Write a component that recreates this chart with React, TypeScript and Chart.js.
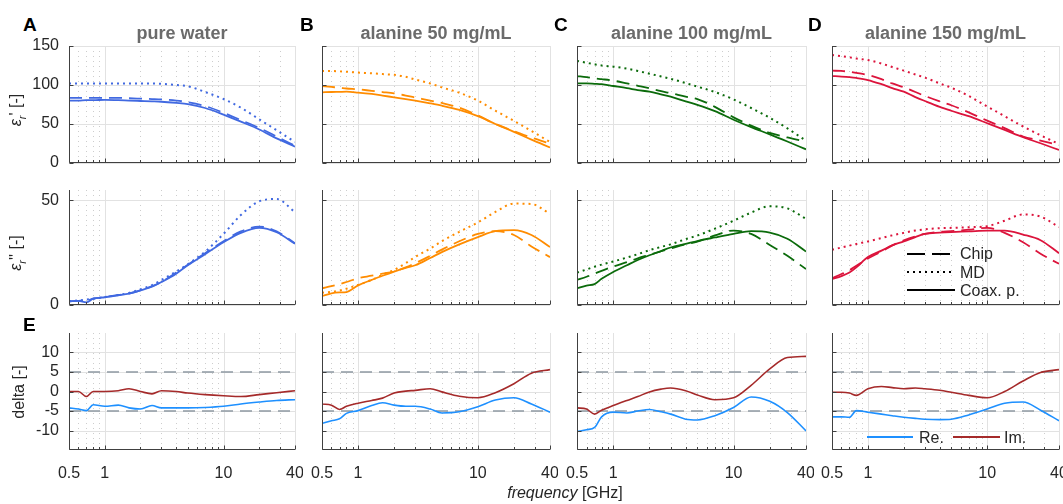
import React, { useEffect, useRef } from "react";
import { Chart, registerables } from "chart.js";
Chart.register(...registerables);

// ---------------- data ----------------
const FREQ = [0.5, 0.6, 0.7, 0.8, 1, 1.3, 1.6, 2, 2.5, 3, 4, 5, 7, 10, 14, 20, 28, 40];
const X_TICKS = [0.5, 1, 10, 40];
const X_MINOR = [0.6, 0.7, 0.8, 0.9, 2, 3, 4, 5, 6, 7, 8, 9, 20, 30];
const Y1_TICKS = [0, 50, 100, 150];
const Y2_TICKS = [0, 50];
const Y3_TICKS = [-10, -5, 0, 5, 10];
const DELTA_LIMITS = [5, -5];

const TITLES = ["pure water", "alanine 50 mg/mL", "alanine 100 mg/mL", "alanine 150 mg/mL"];
const LETTERS = ["A", "B", "C", "D"];
const COLORS = ["#4169e1", "#ff8c00", "#0b6b0b", "#dc143c"];

// row 1: eps'  (Chip, MD, Coax. p.)
const A_EPS1_CHIP = [83.5, 83.5, 83.5, 83.5, 83.5, 83.5, 83, 82.5, 82, 81.5, 80, 78, 73, 64.5, 55, 45, 34, 22];
const A_EPS1_MD = [102, 102, 102, 102, 102, 102, 102, 102, 102, 101.5, 100, 98.5, 91, 82, 71, 56, 42, 27];
const A_EPS1_COAX = [80, 80, 80.5, 80.5, 81, 80.5, 80, 79.5, 79, 78.5, 77, 75.5, 70.5, 62, 53, 43, 31.5, 21];
const B_EPS1_CHIP = [98.7, 97.5, 96.5, 95.5, 94.5, 92.5, 91, 89.3, 86.5, 84, 80, 77, 71, 61, 50, 41, 32.5, 25];
const B_EPS1_MD = [118, 118, 117.5, 117, 116, 115, 114, 113, 110.5, 107, 102, 97, 90, 80, 67, 54, 41, 27];
const B_EPS1_COAX = [90.6, 91, 91.2, 91.4, 90.3, 88.5, 86.5, 84.2, 82, 80, 76.5, 73.5, 68, 60, 50, 40, 30, 20];
const C_EPS1_CHIP = [111.5, 110, 108.5, 107.5, 105.6, 102, 99, 95.7, 92, 89.5, 85, 82, 72, 58.5, 48, 38.6, 32.7, 27.3];
const C_EPS1_MD = [130.8, 128.5, 126.5, 125, 123.5, 121, 118, 114.5, 111, 108, 102.5, 98, 91, 81.5, 70.5, 58, 44.4, 28.6];
const C_EPS1_COAX = [102, 102, 101.5, 101, 98.7, 96, 93.5, 91.4, 88, 85, 79, 74.5, 66.5, 55.5, 46, 36.8, 27.6, 17.5];
const D_EPS1_CHIP = [118.4, 118, 117, 115.5, 112.8, 107.5, 102, 97, 91, 86, 79, 74, 65, 54.3, 44.7, 34, 28.7, 23];
const D_EPS1_MD = [138.5, 137, 135.5, 134, 132, 127.5, 123, 118.4, 113.5, 109.5, 102, 96.5, 86, 72.5, 60, 46.8, 35.5, 24.4];
const D_EPS1_COAX = [111.5, 110.8, 110, 109, 106.4, 101, 96, 91.4, 84.5, 79.5, 72, 67, 60, 51, 42.4, 33, 25.3, 16.7];

// row 2: eps''
const A_EPS2_CHIP = [1.8, 2, 2.2, 3, 3.8, 4.8, 5.5, 7, 9, 11, 15.5, 19.2, 24.8, 30.5, 35.2, 37.5, 35.2, 29.5];
const A_EPS2_MD = [1.8, 2.2, 2.6, 3, 3.8, 4.8, 5.8, 7.5, 9.5, 12, 16, 19.5, 25.5, 34, 43, 49.6, 50.7, 44.4];
const A_EPS2_COAX = [1.7, 2, 1.3, 3, 3.7, 4.6, 5.4, 7, 8.8, 11, 15, 19, 24.3, 30, 34.5, 36.9, 34.8, 29.3];
const B_EPS2_CHIP = [8, 9, 10, 11, 12.8, 14, 15, 16, 18, 20, 23.5, 26.5, 30.5, 34, 35.3, 33.5, 28, 22.9];
const B_EPS2_MD = [5.9, 6.3, 6.9, 7.8, 9.6, 12, 14.5, 16.8, 20, 23, 27, 30.5, 35, 39.5, 44.5, 48.5, 48.3, 43.6];
const B_EPS2_COAX = [4.3, 5.6, 6, 6.2, 9.4, 12, 14, 16, 17.8, 19, 22.5, 25.3, 29, 32.5, 35.3, 35.8, 33.5, 27.7];
const C_EPS2_CHIP = [12, 13.5, 15, 16.3, 18.4, 20.5, 22.3, 24, 25.7, 27, 29, 30.3, 33.3, 35.6, 34, 28.7, 23.5, 17.2];
const C_EPS2_MD = [15.5, 17, 18.3, 19.3, 20.8, 22.7, 24.3, 26.2, 27.8, 29, 31.5, 33.2, 36.5, 40.3, 44.2, 47.2, 46.2, 41.2];
const C_EPS2_COAX = [8, 9.3, 10, 12.5, 15.8, 19, 21.5, 23.8, 25.8, 27.5, 29.2, 30.6, 32.3, 34, 35.3, 34.6, 31.7, 25.6];
const D_EPS2_CHIP = [12.8, 14.8, 16.6, 18.8, 22.2, 25.6, 28.5, 30.9, 32.8, 34, 35, 35.3, 36, 36.9, 34.5, 30, 24.5, 19.7];
const D_EPS2_MD = [26.4, 27.5, 28.4, 29.2, 30.4, 32, 33.3, 34.5, 35.6, 36.2, 36.7, 36.9, 37.2, 37.7, 40.3, 43.3, 42.3, 37.3];
const D_EPS2_COAX = [12.4, 13.8, 15.5, 18, 22.9, 26, 28.5, 30.4, 32.5, 34, 34.6, 34.9, 35.2, 35.6, 35.6, 33.7, 31, 24.8];

// row 3: delta (Re., Im.)
const A_DELTA_RE = [-4.2, -4.5, -4.9, -3.4, -3.8, -3.5, -4.2, -4.5, -3.6, -4.2, -4.2, -4.2, -4.1, -3.8, -3.2, -2.7, -2.3, -2.1];
const A_DELTA_IM = [0, 0, -1.3, 0, 0, 0.2, 0.7, 0, -0.6, 0.2, 0, -0.4, -0.8, -1.1, -1.3, -0.8, -0.3, 0.2];
const B_DELTA_RE = [-8.2, -7.5, -7, -5.6, -4.9, -3.6, -2.9, -3.5, -3.8, -3.8, -4.5, -5.5, -5.2, -3.9, -2.2, -1.6, -3.2, -5.3];
const B_DELTA_IM = [-3.2, -3.5, -4.6, -3.8, -3, -2.3, -1.7, -0.4, 0.1, 0.3, 0.7, -0.1, -1.2, -1.6, -0.3, 2, 4.7, 5.6];
const C_DELTA_RE = [-10.3, -9.8, -9.2, -6.5, -5.3, -5.5, -5, -4.6, -5.2, -5.8, -7.1, -7.3, -6.2, -4.1, -1.4, -2.5, -5.4, -10.1];
const C_DELTA_IM = [-4.2, -4.5, -5.8, -4.8, -3.6, -2.3, -1.3, -0.1, 0.6, 0.9, 0.2, -0.9, -2.1, -1.6, 1.6, 5.8, 8.7, 9];
const D_DELTA_RE = [-6.5, -6.5, -6.6, -4.9, -5.3, -5.8, -6.2, -6.6, -6.9, -7.1, -7.2, -7.1, -6, -4.5, -3, -2.7, -4.8, -7.5];
const D_DELTA_IM = [-0.2, -0.2, -0.4, -1.0, 0.7, 1.3, 1, 0.7, 0.9, 0.7, 0.3, -0.2, -1, -1.6, 0, 2.7, 4.85, 5.6];

const EPS1 = [
  [A_EPS1_CHIP, A_EPS1_MD, A_EPS1_COAX],
  [B_EPS1_CHIP, B_EPS1_MD, B_EPS1_COAX],
  [C_EPS1_CHIP, C_EPS1_MD, C_EPS1_COAX],
  [D_EPS1_CHIP, D_EPS1_MD, D_EPS1_COAX],
];
const EPS2 = [
  [A_EPS2_CHIP, A_EPS2_MD, A_EPS2_COAX],
  [B_EPS2_CHIP, B_EPS2_MD, B_EPS2_COAX],
  [C_EPS2_CHIP, C_EPS2_MD, C_EPS2_COAX],
  [D_EPS2_CHIP, D_EPS2_MD, D_EPS2_COAX],
];
const DELTA = [
  [A_DELTA_RE, A_DELTA_IM],
  [B_DELTA_RE, B_DELTA_IM],
  [C_DELTA_RE, C_DELTA_IM],
  [D_DELTA_RE, D_DELTA_IM],
];

// ---------------- layout / style ----------------
const FONT = "'Liberation Sans', Arial, Helvetica, sans-serif";
const TEXT = "#262626";
const RE_COLOR = "#1e90ff";
const IM_COLOR = "#a52a2a";
const LIMIT_COLOR = "#8f99a3";
const DASH = [13, 7];
const DOT = [2, 4];

const COL_LEFT = [69, 322, 577, 832];
const COL_WIDTH = [226, 228, 229, 227];
const ROW_TOP = [46, 190, 333];
const ROW_HEIGHT = [117, 115, 117];

const PL = 50, PT = 8, PR = 8, PB = 36;

const gridPlugin = {
  id: "matlabGrid",
  beforeDatasetsDraw(chart: any) {
    const { ctx, chartArea: a, scales } = chart;
    const x = scales.x, y = scales.y;
    ctx.save();
    ctx.lineWidth = 1;
    ctx.strokeStyle = "#cdcdcd";
    ctx.setLineDash([1, 4]);
    for (const v of X_MINOR) {
      const px = Math.round(x.getPixelForValue(v)) + 0.5;
      ctx.beginPath(); ctx.moveTo(px, a.top); ctx.lineTo(px, a.bottom); ctx.stroke();
    }
    ctx.setLineDash([]);
    ctx.strokeStyle = "#e2e2e2";
    for (const v of X_TICKS) {
      const px = Math.round(x.getPixelForValue(v)) + 0.5;
      ctx.beginPath(); ctx.moveTo(px, a.top); ctx.lineTo(px, a.bottom); ctx.stroke();
    }
    for (const t of y.ticks) {
      const py = Math.round(y.getPixelForValue(t.value)) + 0.5;
      ctx.beginPath(); ctx.moveTo(a.left, py); ctx.lineTo(a.right, py); ctx.stroke();
    }
    ctx.restore();
  },
  afterDatasetsDraw(chart: any) {
    const { ctx, chartArea: a, scales } = chart;
    const x = scales.x, y = scales.y;
    ctx.save();
    ctx.strokeStyle = "#404040";
    ctx.lineWidth = 1;
    const l = Math.round(a.left) + 0.5;
    const b = Math.round(a.bottom) - 0.5;
    ctx.beginPath(); ctx.moveTo(l, a.top); ctx.lineTo(l, b); ctx.lineTo(a.right, b); ctx.stroke();
    for (const v of X_TICKS) {
      const px = Math.round(x.getPixelForValue(v)) + 0.5;
      ctx.beginPath(); ctx.moveTo(px, b); ctx.lineTo(px, b - 4); ctx.stroke();
    }
    for (const v of X_MINOR) {
      const px = Math.round(x.getPixelForValue(v)) + 0.5;
      ctx.beginPath(); ctx.moveTo(px, b); ctx.lineTo(px, b - 2.5); ctx.stroke();
    }
    for (const t of y.ticks) {
      const py = Math.round(y.getPixelForValue(t.value)) + 0.5;
      ctx.beginPath(); ctx.moveTo(l, py); ctx.lineTo(l + 4, py); ctx.stroke();
    }
    ctx.restore();
  },
};

type SeriesDef = { values: number[]; color: string; dash: number[]; width?: number; full?: boolean };

function zeroPad(s: any) {
  s.paddingLeft = 0;
  s.paddingRight = 0;
  s.paddingTop = 0;
  s.paddingBottom = 0;
}

function Panel(props: {
  col: number; row: number; yMin: number; yMax: number; yTicks: number[]; series: SeriesDef[];
}) {
  const { col, row, yMin, yMax, yTicks, series } = props;
  const ref = useRef<HTMLCanvasElement>(null);
  const width = COL_WIDTH[col];
  const height = ROW_HEIGHT[row];
  const showY = col === 0;
  const showX = row === 2;
  useEffect(() => {
    const datasets = series.map((s) => ({
      data: s.full
        ? [{ x: FREQ[0], y: s.values[0] }, { x: FREQ[FREQ.length - 1], y: s.values[0] }]
        : FREQ.map((f, i) => ({ x: f, y: s.values[i] })),
      borderColor: s.color,
      borderWidth: s.width ?? 1.8,
      borderDash: s.dash,
      borderCapStyle: "butt" as const,
      pointRadius: 0,
      fill: false,
      cubicInterpolationMode: "monotone" as const,
    }));
    const tickFont = { family: FONT, size: 16 };
    const chart = new Chart(ref.current!, {
      type: "line",
      data: { datasets },
      options: {
        animation: false,
        responsive: false,
        maintainAspectRatio: false,
        events: [],
        layout: { padding: { top: PT, right: PR, left: 0, bottom: 0 } },
        plugins: { legend: { display: false }, tooltip: { enabled: false } },
        scales: {
          x: {
            type: "logarithmic",
            min: 0.5,
            max: 40,
            afterBuildTicks: (s: any) => { s.ticks = X_TICKS.map((v) => ({ value: v })); },
            afterFit: (s: any) => { s.height = PB; zeroPad(s); },
            grid: { display: false },
            border: { display: false },
            ticks: {
              display: showX,
              autoSkip: false,
              maxRotation: 0,
              minRotation: 0,
              padding: 6,
              color: TEXT,
              font: tickFont,
              callback: (v: any) => String(v),
            },
          },
          y: {
            type: "linear",
            min: yMin,
            max: yMax,
            afterBuildTicks: (s: any) => { s.ticks = yTicks.map((v) => ({ value: v })); },
            afterFit: (s: any) => { s.width = PL; zeroPad(s); },
            grid: { display: false, drawTicks: false },
            border: { display: false },
            ticks: {
              display: showY,
              autoSkip: false,
              padding: 10,
              color: TEXT,
              font: tickFont,
              callback: (v: any) => String(v),
            },
          },
        },
      },
      plugins: [gridPlugin],
    } as any);
    return () => chart.destroy();
  }, []);
  return (
    <canvas
      ref={ref}
      width={PL + width + PR}
      height={PT + height + PB}
      style={{ position: "absolute", left: COL_LEFT[col] - PL, top: ROW_TOP[row] - PT }}
    />
  );
}

function Txt(props: { x: number; y: number; style?: any; children: any; rotate?: boolean; align?: string }) {
  const { x, y, style, children, rotate, align } = props;
  const tx = align === "left" ? "0" : "-50%";
  return (
    <div
      style={{
        position: "absolute",
        left: x,
        top: y,
        transform: `translate(${tx}, -50%)` + (rotate ? " rotate(-90deg)" : ""),
        whiteSpace: "nowrap",
        fontFamily: FONT,
        fontSize: 16,
        color: TEXT,
        lineHeight: 1,
        ...style,
      }}
    >
      {children}
    </div>
  );
}

function LegendLine(props: { x1: number; x2: number; y: number; color: string; dash?: string; width?: number }) {
  const { x1, x2, y, color, dash, width } = props;
  return (
    <svg style={{ position: "absolute", left: x1, top: y - 3, overflow: "visible" }} width={x2 - x1} height={6}>
      <line x1={0} y1={3} x2={x2 - x1} y2={3} stroke={color} strokeWidth={width ?? 2} strokeDasharray={dash} />
    </svg>
  );
}

export default function App() {
  const panels: any[] = [];
  for (let c = 0; c < 4; c++) {
    const color = COLORS[c];
    panels.push(
      <Panel key={`r1${c}`} col={c} row={0} yMin={0} yMax={150} yTicks={Y1_TICKS}
        series={[
          { values: EPS1[c][0], color, dash: DASH },
          { values: EPS1[c][1], color, dash: DOT, width: 2 },
          { values: EPS1[c][2], color, dash: [] },
        ]} />
    );
    panels.push(
      <Panel key={`r2${c}`} col={c} row={1} yMin={0} yMax={55} yTicks={Y2_TICKS}
        series={[
          { values: EPS2[c][0], color, dash: DASH },
          { values: EPS2[c][1], color, dash: DOT, width: 2 },
          { values: EPS2[c][2], color, dash: [] },
        ]} />
    );
    panels.push(
      <Panel key={`r3${c}`} col={c} row={2} yMin={-15} yMax={15} yTicks={Y3_TICKS}
        series={[
          { values: DELTA[c][0], color: RE_COLOR, dash: [], width: 1.6 },
          { values: DELTA[c][1], color: IM_COLOR, dash: [], width: 1.6 },
          { values: [DELTA_LIMITS[0]], color: LIMIT_COLOR, dash: [12, 7], width: 1.6, full: true },
          { values: [DELTA_LIMITS[1]], color: LIMIT_COLOR, dash: [12, 7], width: 1.6, full: true },
        ]} />
    );
  }
  const letterStyle = { fontWeight: "bold", fontSize: 19, color: "#000" };
  const titleStyle = { fontWeight: "bold", fontSize: 18, color: "#6b6b6b" };
  return (
    <div style={{ position: "absolute", left: 0, top: 0, width: 1063, height: 504, background: "#fff", overflow: "hidden" }}>
      {panels}
      {TITLES.map((t, c) => (
        <Txt key={`t${c}`} x={COL_LEFT[c] + COL_WIDTH[c] / 2} y={33} style={titleStyle}>{t}</Txt>
      ))}
      {LETTERS.map((l, c) => (
        <Txt key={`l${c}`} x={[23, 300, 554, 808][c]} y={24} align="left" style={letterStyle}>{l}</Txt>
      ))}
      <Txt x={23} y={324} align="left" style={letterStyle}>E</Txt>

      <Txt x={18} y={110} rotate>
        <i>ε</i><sub style={{ fontSize: 11 }}><i>r</i></sub>' [-]
      </Txt>
      <Txt x={18} y={253} rotate>
        <i>ε</i><sub style={{ fontSize: 11 }}><i>r</i></sub>'' [-]
      </Txt>
      <Txt x={19} y={392} rotate>delta [-]</Txt>

      <Txt x={565} y={493}>
        <i>frequency</i> [GHz]
      </Txt>

      {/* legend for eps'' panel D */}
      <LegendLine x1={907} x2={955} y={253.5} color="#000" dash="18 7" />
      <LegendLine x1={907} x2={955} y={272} color="#000" dash="2 4" />
      <LegendLine x1={907} x2={955} y={290} color="#000" />
      <Txt x={960} y={254} align="left">Chip</Txt>
      <Txt x={960} y={272.5} align="left">MD</Txt>
      <Txt x={960} y={291} align="left">Coax. p.</Txt>

      {/* legend for delta panel D */}
      <LegendLine x1={867} x2={913} y={437} color={RE_COLOR} />
      <LegendLine x1={953} x2={1000} y={437} color={IM_COLOR} />
      <Txt x={919} y={437.5} align="left">Re.</Txt>
      <Txt x={1004} y={437.5} align="left">Im.</Txt>
    </div>
  );
}
